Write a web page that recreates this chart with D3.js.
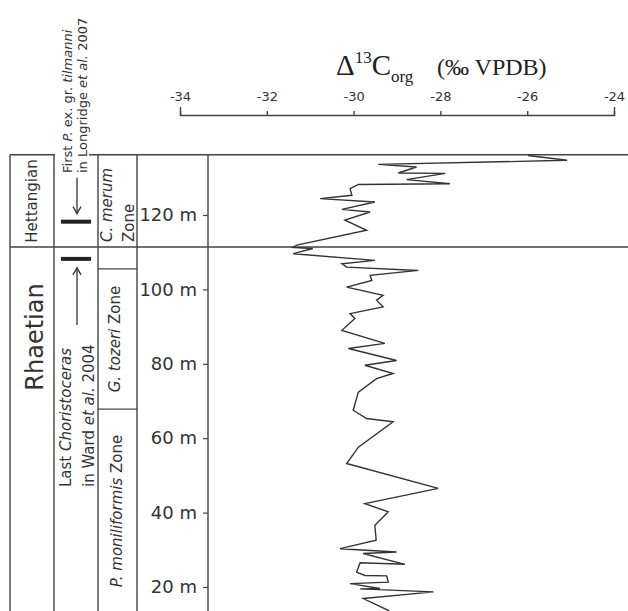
<!DOCTYPE html>
<html lang="en">
<head>
    <meta charset="UTF-8">
    <title>Carbon isotope curve, Rhaetian - Hettangian</title>
    <script src="https://d3js.org/d3.v7.min.js"></script>
    <style>
        body { margin: 0; background: #fff; }
        svg text { font-family: "DejaVu Sans", sans-serif; fill: #333; }
    </style>
</head>
<body>
    <script>
        const depth = [136.0, 134.7, 133.6, 132.9, 131.3, 131.2, 129.5, 128.4, 128.2, 127.1,
            125.3, 124.4, 123.5, 121.5, 120.8, 118.6, 115.9, 111.9, 111.3, 111.0,
            109.6, 107.8, 106.9, 106.0, 105.1, 103.8, 102.4, 100.6, 98.4, 97.1,
            95.3, 93.5, 92.2, 89.0, 85.5, 84.1, 80.9, 79.6, 77.4, 76.0,
            72.4, 67.5, 65.3, 64.4, 57.6, 53.2, 46.5, 42.4, 40.2, 36.6,
            32.6, 30.3, 29.4, 29.0, 26.1, 26.5, 24.0, 23.1, 23.0, 21.3,
            20.9, 19.6, 19.5, 18.7, 16.9, 13.7, 12.0];
        const d13C = [-25.98, -25.08, -29.43, -28.55, -28.97, -27.89, -28.78, -27.78, -29.89, -30.08,
            -30.04, -30.77, -29.51, -30.27, -29.62, -30.20, -29.70, -31.31, -31.40, -30.94,
            -31.39, -29.51, -30.27, -30.16, -28.51, -29.62, -29.58, -30.16, -29.32, -29.47,
            -29.32, -30.08, -29.97, -30.27, -29.28, -30.12, -29.01, -29.74, -29.09, -29.47,
            -29.89, -30.01, -29.70, -29.09, -29.89, -30.16, -28.05, -29.74, -29.20, -29.51,
            -29.48, -30.31, -29.01, -29.78, -28.82, -29.85, -29.93, -29.74, -29.24, -29.20,
            -30.08, -29.39, -29.85, -28.16, -29.78, -29.20, -29.05];

        const xTicks = [-34, -32, -30, -28, -26, -24];
        const depthTicks = [20, 40, 60, 80, 100, 120];

        // stratigraphy (depths in m)
        const sectionTop = 136.2;
        const sectionBase = 10;
        const stageBoundary = 111.4;
        const zoneBreaks = [105.5, 67.8];
        const firstTilmanni = 118.2;
        const lastChoristoceras = 108.2;

        const width = 628, height = 611;
        const svg = d3.select('body').append('svg').attr('width', width).attr('height', height);

        const x = d3.scaleLinear().domain([-34, -24]).range([180, 614]);
        const y = d3.scaleLinear().domain([20, 120]).range([587, 215]);

        // column edges of the log
        const cols = [10, 54, 98, 137, 208];
        const frame = '#444';

        // title
        const title = svg.append('text').attr('x', 336).attr('y', 75)
            .style('font-family', '"Liberation Serif", serif').style('fill', '#222');
        title.append('tspan').attr('font-size', 29).text('Δ');
        title.append('tspan').attr('font-size', 17).attr('dy', -12).text('13');
        title.append('tspan').attr('font-size', 29).attr('dy', 12).text('C');
        title.append('tspan').attr('font-size', 17).attr('dy', 7).text('org');
        title.append('tspan').attr('font-size', 24).attr('x', 437).attr('y', 75).text('(‰ VPDB)');

        // top axis
        const gx = svg.append('g').attr('transform', 'translate(0,115)')
            .call(d3.axisTop(x).tickValues(xTicks).tickSizeInner(4).tickSizeOuter(8).tickPadding(10)
                .tickFormat(d => d < 0 ? '-' + Math.abs(d) : d));
        gx.selectAll('path, line').attr('stroke', frame).attr('stroke-width', 1.4);
        gx.selectAll('text').attr('font-size', 13).style('font-family', '"DejaVu Sans", sans-serif').attr('fill', '#333');

        // frame lines (top line is broken where the marker text crosses it)
        const yTop = y(sectionTop), yBot = y(sectionBase);
        [[cols[0], cols[1] + 1], [89, width]].forEach(seg => {
            svg.append('line').attr('x1', seg[0]).attr('x2', seg[1]).attr('y1', yTop).attr('y2', yTop)
                .attr('stroke', frame).attr('stroke-width', 1.6);
        });
        svg.append('line').attr('x1', cols[0]).attr('x2', width).attr('y1', y(stageBoundary)).attr('y2', y(stageBoundary))
            .attr('stroke', frame).attr('stroke-width', 1.6);
        cols.forEach(c => {
            svg.append('line').attr('x1', c).attr('x2', c).attr('y1', yTop).attr('y2', yBot)
                .attr('stroke', frame).attr('stroke-width', 1.4);
        });
        zoneBreaks.forEach(z => {
            svg.append('line').attr('x1', cols[2]).attr('x2', cols[3]).attr('y1', y(z)).attr('y2', y(z))
                .attr('stroke', frame).attr('stroke-width', 1.2);
        });

        // depth axis
        const gy = svg.append('g').attr('transform', `translate(${cols[4]},0)`)
            .call(d3.axisLeft(y).tickValues(depthTicks).tickSizeInner(5).tickSizeOuter(0).tickPadding(6)
                .tickFormat(d => d + ' m'));
        gy.select('.domain').remove();
        gy.selectAll('line').attr('stroke', frame).attr('stroke-width', 1.2);
        gy.selectAll('text').attr('font-size', 18).style('font-family', '"DejaVu Sans", sans-serif').attr('fill', '#333');

        // rotated labels: parts = [[text, italic], ...]
        function vlabel(px, py, size, anchor, parts) {
            const t = svg.append('text')
                .attr('transform', `translate(${px},${py}) rotate(-90)`)
                .attr('text-anchor', anchor).attr('font-size', size);
            parts.forEach(p => t.append('tspan').attr('font-style', p[1] ? 'italic' : 'normal').text(p[0]));
        }

        vlabel(37, 201, 15, 'middle', [['Hettangian', false]]);
        vlabel(43, 337, 24, 'middle', [['Rhaetian', false]]);

        vlabel(72, 173, 13, 'start', [['First ', false], ['P.', true], [' ex. gr. ', false], ['tilmanni', true]]);
        vlabel(87, 173, 13, 'start', [['in Longridge ', false], ['et al.', true], [' 2007', false]]);
        vlabel(71, 487, 15, 'start', [['Last ', false], ['Choristoceras', true]]);
        vlabel(94, 487, 15, 'start', [['in Ward ', false], ['et al.', true], [' 2004', false]]);

        vlabel(112, 242, 15, 'start', [['C. merum', true]]);
        vlabel(134, 242, 15, 'start', [['Zone', false]]);
        vlabel(120, y((zoneBreaks[0] + zoneBreaks[1]) / 2), 15, 'middle', [['G. tozeri', true], [' Zone', false]]);
        vlabel(122, 511, 15, 'middle', [['P. moniliformis', true], [' Zone', false]]);

        // biostratigraphic markers
        const ax = 77;
        [firstTilmanni, lastChoristoceras].forEach(d => {
            svg.append('rect').attr('x', 61).attr('y', y(d) - 2).attr('width', 30).attr('height', 4).attr('fill', '#222');
        });
        function arrow(y1, y2) {
            const dir = y2 > y1 ? 1 : -1;
            svg.append('line').attr('x1', ax).attr('x2', ax).attr('y1', y1).attr('y2', y2)
                .attr('stroke', '#333').attr('stroke-width', 1.3);
            svg.append('path').attr('d', `M${ax - 4},${y2 - dir * 7} L${ax},${y2} L${ax + 4},${y2 - dir * 7}`)
                .attr('fill', 'none').attr('stroke', '#333').attr('stroke-width', 1.3);
        }
        arrow(y(firstTilmanni) - 44, y(firstTilmanni) - 8);
        arrow(y(lastChoristoceras) + 66, y(lastChoristoceras) + 9);

        // isotope curve
        svg.append('clipPath').attr('id', 'plot')
            .append('rect').attr('x', cols[4]).attr('y', yTop).attr('width', width - cols[4]).attr('height', height - yTop);

        const pts = depth.map((d, i) => [d, d13C[i]]);
        const line = d3.line().x(p => x(p[1])).y(p => y(p[0]));
        svg.append('path').datum(pts)
            .attr('clip-path', 'url(#plot)')
            .attr('d', line)
            .attr('fill', 'none')
            .attr('stroke', '#333')
            .attr('stroke-width', 1.4)
            .attr('stroke-linejoin', 'miter');
    </script>
</body>
</html>
